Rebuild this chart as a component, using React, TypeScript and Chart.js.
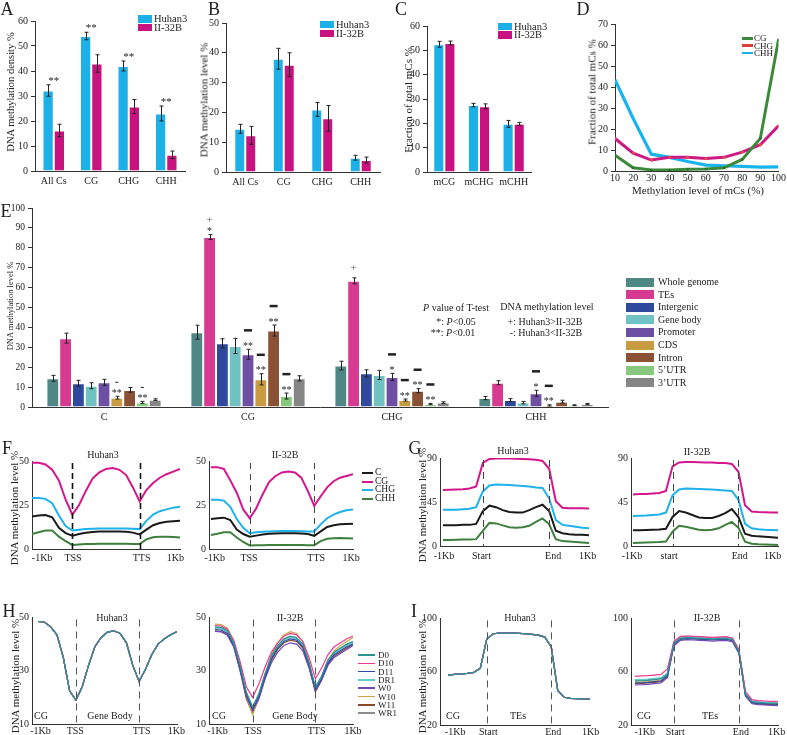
import React, { useEffect, useRef } from "react";
import { Chart, registerables } from "chart.js";
Chart.register(...registerables);

const FONT = "'Liberation Serif', 'Times New Roman', Times, serif";
const CW = 787, CH = 735, CANVAS_H = 780, YW = 30, XH = 24;
const INK = "#222";
const AXIS = "#333";

// ---------- colours ----------
const HU = "#1cb0e6";
const II = "#c8127f";

// ---------- A ----------
const abCats = ["All Cs", "CG", "CHG", "CHH"];
const aHuhan = [32.2, 54, 42, 23];
const aHuhanErr = [2.3, 1.5, 2, 3];
const aII = [16.2, 43, 25.8, 6.5];
const aIIErr = [2.5, 3.5, 2.8, 1.5];
const aSig = ["**", "**", "**", "**"];
const aTicks = [0, 60, 10];

// ---------- B ----------
const bHuhan = [14.5, 38, 21, 4.8];
const bHuhanErr = [1.5, 3.5, 2.3, 0.8];
const bII = [12.3, 36, 18, 4];
const bIIErr = [3, 4, 4.3, 1];
const bTicks = [0, 50, 5];

// ---------- C ----------
const cCats = ["mCG", "mCHG", "mCHH"];
const cHuhan = [52.5, 27.5, 19.8];
const cHuhanErr = [1.2, 0.7, 1.4];
const cII = [53, 27, 19.8];
const cIIErr = [0.8, 1, 0.6];
const cTicks = [0, 60, 10];

// ---------- D ----------
const dLevels = [10, 20, 30, 40, 50, 60, 70, 80, 90, 100];
const dCG = [7.5, 1.5, 0.5, 0.5, 0.8, 1, 1.5, 5.5, 15.5, 62.5];
const dCHG = [15.5, 8.5, 5.2, 6.5, 6.5, 6, 6.5, 9, 12.5, 21.5];
const dCHH = [43.5, 25, 8, 6.5, 4.5, 2.8, 2.5, 2.2, 1.8, 2];

// ---------- E ----------
const eCats = ["C", "CG", "CHG", "CHH"];
const eRegions = ["Whole genome", "TEs", "Intergenic", "Gene body", "Promoter", "CDS", "Intron", "5\u2019UTR", "3\u2019UTR"];
const eColors = ["#4f8784", "#d63b91", "#2f4a9c", "#6fc1c3", "#6d4fa3", "#c79b41", "#8b5135", "#88c77e", "#858585"];
const eWholeGenome = [14.4, 37.6, 20.8, 4.5];
const eWholeGenomeErr = [1.5, 3.5, 2.2, 0.8];
const eTEs = [34.6, 85.4, 63.4, 12.2];
const eTEsErr = [2.5, 1.2, 1.5, 1];
const eIntergenic = [11.9, 32, 16.9, 3.5];
const eIntergenicErr = [1.5, 2.3, 1.8, 0.7];
const eGeneBody = [10.7, 30.7, 16.1, 2.2];
const eGeneBodyErr = [1.5, 3.8, 2.3, 0.6];
const ePromoter = [12.4, 26.5, 15.1, 6.9];
const ePromoterErr = [1.5, 2.5, 1.8, 1.5];
const eCDS = [4.7, 13.9, 3.5, 0.8];
const eCDSErr = [0.7, 2.8, 0.5, 0.3];
const eIntron = [8.6, 38.4, 8.2, 2.7];
const eIntronErr = [1.2, 2.8, 1, 0.7];
const eUTR5 = [2.3, 5.5, 1.5, 0.9];
const eUTR5Err = [0.5, 1.5, 0.3, 0.2];
const eUTR3 = [3.7, 14.4, 2.2, 1.5];
const eUTR3Err = [0.4, 1.3, 0.4, 0.3];
const eSigMarks = [
  { c: 0, s: 5, sig: "**", dir: "-" },
  { c: 0, s: 7, sig: "**", dir: "-" },
  { c: 1, s: 1, sig: "*", dir: "+" },
  { c: 1, s: 4, sig: "**", dir: "-" },
  { c: 1, s: 5, sig: "**", dir: "-" },
  { c: 1, s: 6, sig: "**", dir: "-" },
  { c: 1, s: 7, sig: "**", dir: "-" },
  { c: 2, s: 1, sig: "", dir: "+" },
  { c: 2, s: 4, sig: "*", dir: "-" },
  { c: 2, s: 5, sig: "**", dir: "-" },
  { c: 2, s: 6, sig: "**", dir: "-" },
  { c: 2, s: 7, sig: "**", dir: "-" },
  { c: 3, s: 4, sig: "*", dir: "-" },
  { c: 3, s: 5, sig: "**", dir: "-" },
];

// ---------- F ----------
const profileMarks = [6, 16]; // TSS/TTS or Start/End bin
const fCtxNames = ["C", "CG", "CHG", "CHH"];
const fCtxColors = ["#1a1a1a", "#d4168c", "#1fb1ec", "#3e7f3e"];
const fHuC = [18.5, 19, 19.3, 18, 12, 9, 7.5, 8.5, 9.2, 9.7, 10, 10, 10, 10, 9.8, 9.3, 8.3, 11, 13.5, 14.8, 15.5, 15.8, 16];
const fHuCG = [49, 49, 48, 45, 39, 28, 19.5, 25, 33, 40, 43.5, 45.5, 46, 45, 42, 35, 27, 33.5, 37.5, 40.5, 42.5, 44, 45.5];
const fHuCHG = [29, 29, 28.5, 26, 19, 13, 10.5, 11, 11.3, 11.5, 11.6, 11.7, 11.7, 11.7, 11.6, 11.5, 11.3, 16, 19.5, 21.5, 22.5, 23.5, 24];
const fHuCHH = [8.5, 9.5, 10.5, 10.5, 7, 4.5, 2.3, 2.6, 2.8, 2.9, 3, 3, 3, 3, 3, 2.9, 2.8, 5.5, 6.7, 7, 7, 6.8, 6.6];
const fIIC = [17, 17.5, 17.8, 16.5, 11, 8.5, 7, 7.6, 8.2, 8.6, 8.8, 8.9, 8.9, 8.9, 8.8, 8.5, 7.5, 10, 12.5, 13.5, 14, 14.2, 14.3];
const fIICG = [46.5, 46.5, 45.5, 39, 32, 22.5, 17.5, 23, 31, 38, 41.5, 43.5, 44, 43.5, 40.5, 33, 24.5, 30, 35, 38.5, 40.5, 41.5, 42.5];
const fIICHG = [28, 28, 27.5, 24, 17, 12, 9, 9.5, 9.8, 10, 10.1, 10.2, 10.2, 10.2, 10.1, 10, 10, 14, 17.5, 19.5, 21, 22, 22.5];
const fIICHH = [8, 8.7, 9.5, 9.5, 6.5, 4, 2, 2.1, 2.2, 2.3, 2.3, 2.3, 2.3, 2.3, 2.3, 2.2, 2.2, 4.5, 5.8, 6.1, 6.2, 6.1, 6];
const geneTickLabels = ["-1Kb", "TSS", "TTS", "1Kb"];

// ---------- G ----------
const gHuC = [21.5, 21.5, 21.5, 22, 22, 23, 36, 41.5, 40, 37, 35, 34.5, 34.5, 37, 40, 42.5, 36, 16, 13.5, 12.5, 12, 12, 11.5];
const gHuCG = [57.5, 57.8, 58, 58.3, 59, 61, 85, 89, 89.5, 89.5, 89.5, 89.3, 89, 88.8, 88.3, 87, 79, 46, 39.5, 39, 39, 38.8, 38.7];
const gHuCHG = [37.5, 37.5, 37.5, 38, 38.5, 40, 56, 62, 63, 62.8, 62.5, 62, 61.5, 61, 60, 59.5, 49, 27, 22, 21, 20, 19, 18.5];
const gHuCHH = [6.5, 6.7, 6.8, 7, 7.2, 7.5, 16, 24, 23.5, 21.5, 19.5, 19, 19.5, 21, 25, 28.5, 22.5, 7.5, 5.5, 5, 4.5, 4, 3.5];
const gIIC = [16.5, 16.6, 16.8, 17, 17.3, 18, 30, 36, 34.5, 32, 29.5, 29, 29, 31, 34, 38, 30, 13, 11, 10.3, 9.8, 9.4, 9];
const gIICG = [53, 53.3, 53.5, 54, 54.5, 56.5, 81.5, 85.5, 86, 86, 85.8, 85.5, 85.3, 85, 84.8, 84, 76, 42, 35.5, 35, 34.8, 34.6, 34.5];
const gIICHG = [31, 31.3, 31.5, 32, 32.5, 34.5, 52, 58, 59, 58.8, 58.5, 58.3, 58, 57.5, 57, 56.5, 47.5, 23, 18.5, 17.5, 17, 16.7, 16.5];
const gIICHH = [3.5, 3.7, 4, 4.2, 4.5, 5, 15, 21, 20, 18.5, 17, 16.5, 17, 18.5, 22, 25, 19, 5, 2.8, 2.3, 2, 1.8, 1.6];

// ---------- H / I (8 samples) ----------
const sampleNames = ["D0", "D10", "D11", "DR1", "W0", "W10", "W11", "WR1"];
const sampleColors = ["#2b9590", "#ec3a92", "#2e4ba5", "#62cdd0", "#7048b8", "#cda54c", "#8c4a2b", "#8c8c8c"];
// Huhan3: the eight samples overlap completely
const hHuhan3 = [48.5, 48.3, 46.5, 43.5, 35, 22.5, 19, 24, 32, 39, 42.5, 44.5, 45, 44, 40.5, 32, 26, 30.5, 36, 40, 42, 43.5, 44.7];
const hII_D0 = [46.5, 46.3, 45, 40.5, 32, 22, 16.5, 21.5, 29, 35.5, 39.5, 42, 43, 42.5, 40, 33, 24, 28, 34, 37, 38.5, 40, 41];
const hII_D10 = [47, 46.8, 45.5, 41.5, 33.5, 24, 20, 25, 31.5, 37, 40.5, 43, 44, 43.5, 41, 35, 27, 31, 36, 39, 40.5, 42, 43];
const hII_D11 = [45.5, 45.3, 44, 39.5, 31, 21, 15.5, 20.5, 28, 34.5, 38.5, 41, 42, 41.5, 39, 32, 23, 27, 33, 36, 37.5, 39, 40];
const hII_DR1 = [46, 45.8, 44.5, 40, 31.5, 21.5, 16, 21, 28.5, 35, 39, 41.5, 42.5, 42, 39.5, 32.5, 23.5, 27.5, 33.5, 36.5, 38, 39.5, 40.5];
const hII_W0 = [44.8, 44.6, 43.3, 39, 30.5, 20.5, 15, 19.5, 27, 33, 37, 39.5, 40.5, 40, 37.5, 31, 22.5, 26.5, 32, 35, 36.5, 38, 39.5];
const hII_W10 = [47.5, 47.3, 46, 41, 32, 20.5, 13.5, 20, 29, 36, 40.5, 43.5, 44.7, 44, 41, 33.5, 22.5, 27.5, 34, 37.5, 39.5, 41, 42.5];
const hII_W11 = [45, 44.8, 43.5, 39, 30, 19.5, 14, 19.5, 27.5, 34, 38, 40.5, 41.5, 41, 38.5, 31.5, 22, 26.5, 32.5, 35.5, 37, 38.5, 39.8];
const hII_WR1 = [46.2, 46, 44.8, 40.3, 31.8, 21.5, 15, 21, 28.8, 35.2, 39.2, 41.8, 42.8, 42.3, 39.8, 32.8, 23, 27.8, 33.8, 36.8, 38.3, 39.8, 40.8];

const iHuhan3 = [57.5, 58, 58.3, 58.8, 59.5, 62.5, 84.5, 88.5, 89, 89, 89, 88.8, 88.5, 88, 87.5, 86, 78.5, 46, 40.8, 40, 39.8, 39.6, 39.4];
const iII_D0 = [53, 53.2, 53.5, 54, 54.5, 58, 81.5, 85, 85.5, 85.3, 85, 84.8, 84.5, 84.8, 85, 84, 75, 43, 37.5, 36.8, 36.5, 36.3, 36];
const iII_D10 = [56.5, 56.8, 57, 57.5, 58, 62, 83, 86.5, 86.8, 86.5, 86.3, 86, 85.8, 86, 86.3, 85.3, 76.5, 45, 39, 38.3, 38, 37.8, 37.5];
const iII_D11 = [51.5, 51.7, 52, 52.5, 53, 57, 81, 84.5, 85, 84.8, 84.5, 84.3, 84, 84.3, 84.5, 83.5, 74.5, 42.5, 37, 36.3, 36, 35.8, 35.5];
const iII_DR1 = [54, 54.2, 54.5, 55, 55.5, 59, 82, 85.5, 86, 85.8, 85.5, 85.3, 85, 85.3, 85.5, 84.5, 75.5, 43.5, 38, 37.3, 37, 36.8, 36.5];
const iII_W0 = [50, 50.2, 50.5, 51, 51.5, 55.5, 79.5, 83.5, 84, 83.8, 83.5, 83.3, 83, 83.3, 83.5, 82.5, 73.5, 41.5, 36, 35.3, 35, 34.8, 34.5];
const iII_W10 = [52, 52.2, 52.5, 53, 53.5, 57.5, 81.5, 85.5, 86, 85.8, 85.5, 85.3, 85, 85.3, 85.5, 84.5, 75, 43, 37.5, 36.8, 36.5, 36.3, 36];
const iII_W11 = [51, 51.2, 51.5, 52, 52.5, 56.5, 80.5, 84.5, 85, 84.8, 84.5, 84.3, 84, 84.3, 84.5, 83.5, 74.5, 42, 36.5, 35.8, 35.5, 35.3, 35];
const iII_WR1 = [53.5, 53.7, 54, 54.5, 55, 58.5, 82, 86, 86.5, 86.3, 86, 85.8, 85.5, 85.8, 86, 85, 75.5, 44, 38, 37.3, 37, 36.8, 36.5];
const teTickLabels = ["-1Kb", "Start", "End", "1Kb"];
const teTickLabelsII = ["-1Kb", "start", "End", "1Kb"];

// ---------- helpers ----------
type Area = { l: number; t: number; r: number; b: number };
const layoutFor = (a: Area) => ({ padding: { left: a.l - YW, top: a.t, right: CW - a.r, bottom: CANVAS_H - a.b - XH } });

function yAxis(min: number, max: number, step: number, opts: any = {}) {
  const ticks = opts.ticks !== false;
  return {
    type: "linear",
    min,
    max,
    ticks: { stepSize: step, font: { family: FONT, size: opts.size || 10 }, color: INK, padding: 3 },
    grid: { display: ticks, drawOnChartArea: false, drawTicks: ticks, tickLength: 4, color: AXIS },
    border: { display: true, color: AXIS, width: 1 },
    afterFit: (s: any) => { s.width = YW; },
  };
}
function xCat(pad = 4, size = 10) {
  return {
    type: "category",
    grid: { display: false, drawTicks: false },
    border: { display: true, color: AXIS, width: 1 },
    ticks: { font: { family: FONT, size }, color: INK, padding: pad, maxRotation: 0, autoSkip: false },
    afterFit: (s: any) => { s.height = XH; },
  };
}
function xLin(min: number, max: number, at: number[], labels: string[], pad = 3) {
  return {
    type: "linear",
    min,
    max,
    grid: { display: false, drawTicks: false },
    border: { display: true, color: AXIS, width: 1 },
    ticks: {
      font: { family: FONT, size: 10 }, color: INK, padding: pad, autoSkip: false, maxRotation: 0,
      callback: (v: any) => { const i = at.indexOf(v); return i >= 0 ? labels[i] : ""; },
    },
    afterBuildTicks: (s: any) => { s.ticks = at.map((v) => ({ value: v })); },
    afterFit: (s: any) => { s.height = XH; },
  };
}
const baseOpts = (area: Area) => ({
  responsive: false,
  animation: false,
  events: [],
  layout: layoutFor(area),
  plugins: { legend: { display: false }, tooltip: { enabled: false }, title: { display: false } },
});

const errPlugin = {
  id: "errbars",
  afterDatasetsDraw(chart: any) {
    const ctx = chart.ctx, y = chart.scales.y;
    ctx.save();
    ctx.strokeStyle = INK;
    ctx.lineWidth = 1;
    chart.data.datasets.forEach((ds: any, i: number) => {
      if (!ds.errors) return;
      chart.getDatasetMeta(i).data.forEach((el: any, j: number) => {
        const v = ds.data[j], e = ds.errors[j];
        const yt = y.getPixelForValue(v + e), yb = y.getPixelForValue(v - e);
        const x = Math.round(el.x) + 0.5;
        ctx.beginPath();
        ctx.moveTo(x, yt); ctx.lineTo(x, yb);
        ctx.moveTo(x - 2, yt); ctx.lineTo(x + 2, yt);
        ctx.moveTo(x - 2, yb); ctx.lineTo(x + 2, yb);
        ctx.stroke();
      });
    });
    ctx.restore();
  },
};

const pairSigPlugin = (labels: string[]) => ({
  id: "pairsig",
  afterDatasetsDraw(chart: any) {
    const ctx = chart.ctx, y = chart.scales.y;
    ctx.save();
    ctx.fillStyle = INK;
    ctx.font = `11px ${FONT}`;
    ctx.textAlign = "center";
    ctx.textBaseline = "middle";
    labels.forEach((t, i) => {
      let top = Infinity, xs = 0;
      chart.data.datasets.forEach((ds: any, k: number) => {
        const el = chart.getDatasetMeta(k).data[i];
        xs += el.x;
        top = Math.min(top, y.getPixelForValue(ds.data[i] + ds.errors[i]));
      });
      ctx.fillText(t, xs / chart.data.datasets.length, top - 7 + 3);
    });
    ctx.restore();
  },
});

const eSigPlugin = {
  id: "esig",
  afterDatasetsDraw(chart: any) {
    const ctx = chart.ctx, y = chart.scales.y;
    ctx.save();
    ctx.fillStyle = INK;
    ctx.textAlign = "center";
    ctx.textBaseline = "middle";
    eSigMarks.forEach((m) => {
      const ds = chart.data.datasets[m.s];
      const el = chart.getDatasetMeta(m.s).data[m.c];
      const top = y.getPixelForValue(ds.data[m.c] + ds.errors[m.c]);
      const x = el.x;
      if (m.sig) {
        ctx.font = `10px ${FONT}`;
        ctx.fillText(m.sig, x, top - 6 + 3);
      }
      const dy = m.sig ? (m.c === 0 ? 14 : 19) : 10;
      if (m.dir === "+") {
        ctx.font = `11px ${FONT}`;
        ctx.fillStyle = "#555";
        ctx.fillText("+", x, top - (m.sig ? 15 : dy));
        ctx.fillStyle = INK;
      } else {
        if (m.c === 0) ctx.fillRect(x - 1.5, top - dy - 0.5, 3, 1);
        else ctx.fillRect(x - 4, top - dy - 1.2, 8, 2.5);
      }
    });
    ctx.restore();
  },
};

const vlinePlugin = (color: string, width: number, dash: number[]) => ({
  id: "vlines",
  afterDatasetsDraw(chart: any) {
    const ctx = chart.ctx, x = chart.scales.x, a = chart.chartArea;
    ctx.save();
    ctx.strokeStyle = color;
    ctx.lineWidth = width;
    ctx.setLineDash(dash);
    profileMarks.forEach((v) => {
      const px = Math.round(x.getPixelForValue(v)) + 0.5;
      ctx.beginPath();
      ctx.moveTo(px, a.top + 2);
      ctx.lineTo(px, a.bottom);
      ctx.stroke();
    });
    ctx.restore();
  },
});

function pairBar(canvas: HTMLCanvasElement, cats: string[], hu: number[], huE: number[], ii: number[], iiE: number[], area: Area, yt: number[], pct: number, sig?: string[]) {
  const mk = (label: string, data: number[], errors: number[], color: string) => ({
    label, data, errors, backgroundColor: color, borderColor: "rgba(255,255,255,0.75)", borderWidth: 1,
    categoryPercentage: pct, barPercentage: 1,
  });
  return new Chart(canvas, {
    type: "bar",
    data: { labels: cats, datasets: [mk("Huhan3", hu, huE, HU), mk("II-32B", ii, iiE, II)] as any },
    options: { ...baseOpts(area), scales: { x: xCat(4), y: yAxis(yt[0], yt[1], yt[2]) } } as any,
    plugins: sig ? [errPlugin, pairSigPlugin(sig)] : [errPlugin],
  } as any);
}

function profile(canvas: HTMLCanvasElement, area: Area, xmin: number, at: number[], labels: string[], yt: number[], series: { data: number[]; color: string; width: number }[], vl: [string, number, number[]], pad: number) {
  return new Chart(canvas, {
    type: "line",
    data: {
      datasets: series.map((s) => ({
        data: s.data.map((v, i) => ({ x: i, y: v })),
        borderColor: s.color, borderWidth: s.width, pointRadius: 0, tension: 0, fill: false,
      })),
    },
    options: {
      ...baseOpts(area),
      scales: { x: xLin(xmin, 22, at, labels, pad), y: yAxis(yt[0], yt[1], yt[2], { ticks: false }) },
    } as any,
    plugins: [vlinePlugin(vl[0], vl[1], vl[2])],
  } as any);
}

// ---------- chart builders ----------
const makers: ((c: HTMLCanvasElement) => Chart)[] = [
  // A
  (c) => pairBar(c, abCats, aHuhan, aHuhanErr, aII, aIIErr, { l: 35, t: 21, r: 185, b: 171 }, aTicks, 0.6, aSig),
  // B
  (c) => pairBar(c, abCats, bHuhan, bHuhanErr, bII, bIIErr, { l: 226, t: 23, r: 380, b: 172 }, bTicks, 0.57),
  // C
  (c) => pairBar(c, cCats, cHuhan, cHuhanErr, cII, cIIErr, { l: 427, t: 26, r: 531, b: 172 }, cTicks, 0.64),
  // D
  (c) =>
    new Chart(c, {
      type: "line",
      data: {
        datasets: [
          { data: dLevels.map((x, i) => ({ x, y: dCG[i] })), borderColor: "#3b8a3b", borderWidth: 3, pointRadius: 1.2, pointBackgroundColor: "#2d6b2d", pointBorderWidth: 0, tension: 0 },
          { data: dLevels.map((x, i) => ({ x, y: dCHG[i] })), borderColor: "#cc1a82", borderWidth: 3, pointRadius: 1.5, pointBackgroundColor: "#e84a4a", pointBorderWidth: 0, tension: 0 },
          { data: dLevels.map((x, i) => ({ x, y: dCHH[i] })), borderColor: "#19b4ee", borderWidth: 3.2, pointRadius: 0, tension: 0 },
        ],
      },
      options: {
        ...baseOpts({ l: 615, t: 24, r: 782, b: 171 }),
        scales: {
          x: {
            type: "linear", min: 10, max: 100,
            grid: { display: false, drawTicks: false },
            border: { display: true, color: AXIS },
            ticks: { stepSize: 10, font: { family: FONT, size: 10 }, color: INK, padding: 1, autoSkip: false, maxRotation: 0 },
            afterFit: (s: any) => { s.height = XH; },
          },
          y: yAxis(0, 70, 10),
        },
      } as any,
    } as any),
  // E
  (c) => {
    const vals = [eWholeGenome, eTEs, eIntergenic, eGeneBody, ePromoter, eCDS, eIntron, eUTR5, eUTR3];
    const errs = [eWholeGenomeErr, eTEsErr, eIntergenicErr, eGeneBodyErr, ePromoterErr, eCDSErr, eIntronErr, eUTR5Err, eUTR3Err];
    return new Chart(c, {
      type: "bar",
      data: {
        labels: eCats,
        datasets: eRegions.map((name, i) => ({
          label: name, data: vals[i], errors: errs[i], backgroundColor: eColors[i],
          borderColor: "rgba(255,255,255,0.8)", borderWidth: 1, categoryPercentage: 0.8, barPercentage: 1,
        })),
      } as any,
      options: { ...baseOpts({ l: 32, t: 208, r: 608, b: 407 }), scales: { x: xCat(4), y: yAxis(0, 100, 10, { size: 9.5 }) } } as any,
      plugins: [errPlugin, eSigPlugin],
    } as any);
  },
  // F
  (c) => profile(c, { l: 32, t: 461, r: 180, b: 549 }, 0, [1.5, 6.1, 16.3, 21.3], geneTickLabels, [0, 50, 25],
    [fHuC, fHuCG, fHuCHG, fHuCHH].map((d, i) => ({ data: d, color: fCtxColors[i], width: 2 })), ["#111", 1.6, [6, 4]], 3),
  (c) => profile(c, { l: 209, t: 461, r: 353, b: 549 }, -0.3, [0.6, 5.9, 16.3, 21.7], geneTickLabels, [0, 50, 25],
    [fIIC, fIICG, fIICHG, fIICHH].map((d, i) => ({ data: d, color: fCtxColors[i], width: 2 })), ["#444", 1, [6, 5]], 3),
  // G
  (c) => profile(c, { l: 440, t: 458, r: 589, b: 546.5 }, -0.45, [0.15, 5.8, 16.6, 21.8], teTickLabels, [0, 90, 45],
    [gHuC, gHuCG, gHuCHG, gHuCHH].map((d, i) => ({ data: d, color: fCtxColors[i], width: 2 })), ["#444", 1, [7, 5]], 4),
  (c) => profile(c, { l: 631, t: 458, r: 778, b: 546.5 }, -0.3, [-0.15, 5.5, 16.2, 21.2], teTickLabelsII, [0, 90, 45],
    [gIIC, gIICG, gIICHG, gIICHH].map((d, i) => ({ data: d, color: fCtxColors[i], width: 2 })), ["#444", 1, [7, 5]], 4),
  // H
  (c) => profile(c, { l: 32, t: 617.5, r: 177, b: 724 }, -0.95, [0.4, 5.9, 16.4, 21.9], geneTickLabels, [10, 50, 20],
    sampleColors.map((col) => ({ data: hHuhan3, color: col, width: 1.2 })), ["#555", 1, [7, 5]], 1),
  (c) => profile(c, { l: 209, t: 617.5, r: 353, b: 724 }, -0.95, [0.4, 6.1, 16.2, 22], geneTickLabels, [10, 50, 20],
    [hII_D0, hII_D10, hII_D11, hII_DR1, hII_W0, hII_W10, hII_W11, hII_WR1].map((d, i) => ({ data: d, color: sampleColors[i], width: 1.2 })), ["#555", 1, [7, 5]], 1),
  // I
  (c) => profile(c, { l: 440, t: 618.4, r: 590, b: 725 }, -1.24, [1.1, 6.25, 16.3, 22.1], teTickLabels, [20, 100, 40],
    sampleColors.map((col) => ({ data: iHuhan3, color: col, width: 1.2 })), ["#555", 1, [7, 5]], 1),
  (c) => profile(c, { l: 631, t: 618.4, r: 778, b: 725 }, -0.6, [1.5, 6.2, 16.3, 21.8], teTickLabels, [20, 100, 40],
    [iII_D0, iII_D10, iII_D11, iII_DR1, iII_W0, iII_W10, iII_W11, iII_WR1].map((d, i) => ({ data: d, color: sampleColors[i], width: 1.2 })), ["#555", 1, [7, 5]], 1),
];

function ChartLayer({ make }: { make: (c: HTMLCanvasElement) => Chart }) {
  const ref = useRef<HTMLCanvasElement>(null);
  useEffect(() => {
    const ch = make(ref.current as HTMLCanvasElement);
    return () => ch.destroy();
  }, []);
  return <canvas ref={ref} width={CW} height={CANVAS_H} style={{ position: "absolute", left: 0, top: 0, width: CW, height: CANVAS_H, pointerEvents: "none" }} />;
}

function T({ x, y, children, size = 10, align = "center", style = {} }: any) {
  const tx = align === "center" ? "-50%" : align === "right" ? "-100%" : "0";
  return (
    <div style={{ position: "absolute", left: x, top: y, transform: `translate(${tx},-50%)`, fontFamily: FONT, fontSize: size, lineHeight: 1, whiteSpace: "nowrap", color: INK, ...style }}>
      {children}
    </div>
  );
}
function VT({ x, y, children, size = 11 }: any) {
  return (
    <div style={{ position: "absolute", left: x, top: y, transform: "translate(-50%,-50%) rotate(-90deg)", fontFamily: FONT, fontSize: size, lineHeight: 1, whiteSpace: "nowrap", color: INK }}>
      {children}
    </div>
  );
}
function Box({ x, y, w, h, color }: any) {
  return <div style={{ position: "absolute", left: x, top: y - h / 2, width: w, height: h, background: color }} />;
}

function PairLegend({ x, y1, y2 }: any) {
  return (
    <>
      <Box x={x} y={y1} w={14} h={7.5} color={HU} />
      <T x={x + 16} y={y1} align="left" size={10.5}>Huhan3</T>
      <Box x={x} y={y2} w={14} h={7.5} color={II} />
      <T x={x + 16} y={y2} align="left" size={10.5}>II-32B</T>
    </>
  );
}

export default function App() {
  return (
    <div style={{ position: "absolute", left: 0, top: 0, width: CW, height: CH, background: "#fff", overflow: "hidden" }}>
      {makers.map((m, i) => <ChartLayer key={i} make={m} />)}

      {/* panel letters */}
      <T x={7} y={9} size={18}>A</T>
      <T x={214} y={9} size={18}>B</T>
      <T x={401} y={9} size={18}>C</T>
      <T x={583} y={9} size={18}>D</T>
      <T x={6} y={211} size={18}>E</T>
      <T x={7} y={448} size={18}>F</T>
      <T x={415} y={448} size={18}>G</T>
      <T x={9} y={611} size={18}>H</T>
      <T x={414} y={611} size={18}>I</T>

      {/* A-D */}
      <VT x={11} y={92} size={10.5}>DNA methylation density %</VT>
      <PairLegend x={138} y1={19} y2={27.5} />
      <VT x={204} y={100} size={11}>DNA methylation level %</VT>
      <PairLegend x={320} y1={24.5} y2={33.5} />
      <VT x={408} y={100} size={11}>Fraction of total mCs %</VT>
      <PairLegend x={498} y1={26.5} y2={35} />
      <VT x={592} y={92} size={11}>Fraction of total mCs %</VT>
      <T x={698} y={190} size={11}>Methylation level of mCs (%)</T>
      {[["CG", "#3b8a3b"], ["CHG", "#e03a3a"], ["CHH", "#19b4ee"]].map(([n, col], i) => (
        <React.Fragment key={n}>
          <Box x={742} y={38.3 + i * 7.3} w={11} h={2.6} color={col} />
          <T x={754} y={38.3 + i * 7.3} align="left" size={9}>{n}</T>
        </React.Fragment>
      ))}

      {/* E */}
      <VT x={10} y={306} size={8.5}>DNA methylation level %</VT>
      <T x={456} y={308} size={10}><i>P</i> value of T-test</T>
      <T x={456} y={322} size={10}>*: <i>P</i>&lt;0.05</T>
      <T x={453} y={333} size={10}>**: <i>P</i>&lt;0.01</T>
      <T x={547} y={307} size={10}>DNA methylation level</T>
      <T x={545} y={322} size={10}>+: Huhan3&gt;II-32B</T>
      <T x={546} y={333} size={10}>-: Huhan3&lt;II-32B</T>
      {eRegions.map((n, i) => (
        <React.Fragment key={n}>
          <Box x={626} y={282 + i * 12.6} w={28} h={9} color={eColors[i]} />
          <T x={658} y={282 + i * 12.6} align="left" size={10}>{n}</T>
        </React.Fragment>
      ))}

      {/* F */}
      <VT x={14} y={508} size={11}>DNA methylation level %</VT>
      <T x={103} y={455} size={10}>Huhan3</T>
      <T x={285} y={455} size={10}>II-32B</T>
      {fCtxNames.map((n, i) => (
        <React.Fragment key={n}>
          <Box x={362} y={473 + i * 8.7} w={11} h={2} color={fCtxColors[i]} />
          <T x={375} y={473 + i * 8.7} align="left" size={9.5}>{n}</T>
        </React.Fragment>
      ))}

      {/* G */}
      <VT x={422} y={505} size={11}>DNA methylation level %</VT>
      <T x={513} y={451} size={10}>Huhan3</T>
      <T x={697} y={452} size={10}>II-32B</T>

      {/* H */}
      <VT x={15} y={676} size={11}>DNA methylation level %</VT>
      <T x={112} y={618} size={10}>Huhan3</T>
      <T x={290} y={618} size={10}>II-32B</T>
      <T x={41} y={716} size={10}>CG</T>
      <T x={110} y={716} size={10}>Gene Body</T>
      <T x={219} y={716} size={10}>CG</T>
      <T x={295} y={716} size={10}>Gene Body</T>
      {sampleNames.map((n, i) => (
        <React.Fragment key={n}>
          <Box x={358} y={655 + i * 8.3} w={17} h={1.6} color={sampleColors[i]} />
          <T x={378} y={655 + i * 8.3} align="left" size={9}>{n}</T>
        </React.Fragment>
      ))}

      {/* I */}
      <VT x={422} y={676} size={11}>DNA methylation level %</VT>
      <T x={520} y={618} size={10}>Huhan3</T>
      <T x={707} y={618} size={10}>II-32B</T>
      <T x={453} y={716} size={10}>CG</T>
      <T x={518} y={716} size={10}>TEs</T>
      <T x={644} y={716} size={10}>CG</T>
      <T x={710} y={716} size={10}>TEs</T>
    </div>
  );
}
